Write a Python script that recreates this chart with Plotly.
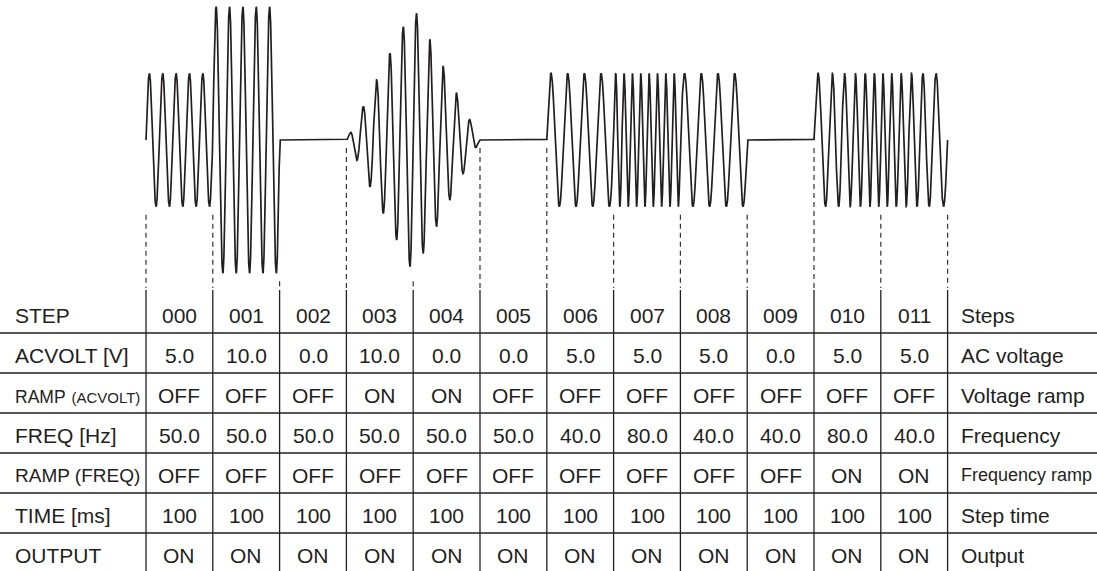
import numpy as np
import plotly.graph_objects as go

# ---------------- data ----------------
steps = ["000", "001", "002", "003", "004", "005", "006", "007", "008", "009", "010", "011"]
acvolt = [5.0, 10.0, 0.0, 10.0, 0.0, 0.0, 5.0, 5.0, 5.0, 0.0, 5.0, 5.0]
ramp_acvolt = ["OFF", "OFF", "OFF", "ON", "ON", "OFF", "OFF", "OFF", "OFF", "OFF", "OFF", "OFF"]
freq = [50.0, 50.0, 50.0, 50.0, 50.0, 50.0, 40.0, 80.0, 40.0, 40.0, 80.0, 40.0]
ramp_freq = ["OFF", "OFF", "OFF", "OFF", "OFF", "OFF", "OFF", "OFF", "OFF", "OFF", "ON", "ON"]
time_ms = [100, 100, 100, 100, 100, 100, 100, 100, 100, 100, 100, 100]
output = ["ON"] * 12

row_labels = ["STEP", "ACVOLT [V]",
              "<span style='font-size:17.5px'>RAMP</span> <span style='font-size:15px'>(ACVOLT)</span>",
              "FREQ [Hz]", "<span style='font-size:19px'>RAMP (FREQ)</span>", "TIME [ms]", "OUTPUT"]
row_desc = ["Steps", "AC voltage", "Voltage ramp", "Frequency",
            "<span style='font-size:18px'>Frequency ramp</span>", "Step time", "Output"]

fmt = lambda v: f"{v:.1f}"
rows = [steps, [fmt(v) for v in acvolt], ramp_acvolt, [fmt(v) for v in freq],
        ramp_freq, [str(v) for v in time_ms], output]

# ---------------- waveform ----------------
bounds = np.concatenate([[0], np.cumsum(time_ms)]).astype(float)
t_all, v_all = [], []
phase, prev_a, prev_f = 0.0, 0.0, freq[0]
for i in range(len(steps)):
    T = time_ms[i] / 1000.0
    tt = np.linspace(0, T, 3001)
    a_end = acvolt[i]
    a_start = prev_a if ramp_acvolt[i] == "ON" else a_end
    f_end = freq[i]
    f_start = prev_f if ramp_freq[i] == "ON" else f_end
    amp = a_start + (a_end - a_start) * tt / T
    ph = phase + 2 * np.pi * (f_start * tt + (f_end - f_start) * tt ** 2 / (2 * T))
    v = amp * np.sin(ph) if output[i] == "ON" else 0 * tt
    t_all.append(bounds[i] + tt * 1000)
    v_all.append(v)
    phase = ph[-1]
    prev_a, prev_f = a_end, f_end
t_all = np.concatenate(t_all)
v_all = np.concatenate(v_all)

# ---------------- geometry ----------------
PX_PER_MS = 0.668
X0_PX = 146.0
W, H = 1097, 571
x_range = [(0 - X0_PX) / PX_PER_MS, (W - X0_PX) / PX_PER_MS]
BASE_PX, PX_PER_V = 140.0, 13.33
y_range = [(BASE_PX - H) / PX_PER_V, BASE_PX / PX_PER_V]
ROW0_PX, ROW_H = 315.0, 40.0
y2_range = [(H - ROW0_PX) / ROW_H, (0 - ROW0_PX) / ROW_H]

def px_to_volt(p):
    return (BASE_PX - p) / PX_PER_V

def px_to_row(p):
    return (p - ROW0_PX) / ROW_H

INK = "#231f20"
fig = go.Figure()

# dashed guides from waveform to table
gap_v = 8 / PX_PER_V
dash_bottom = px_to_volt(288)
dx, dy = [], []
for k, b in enumerate(bounds):
    a = acvolt[0] if k == 0 else acvolt[k - 1]
    dx += [b, b, None]
    dy += [-a - gap_v, dash_bottom, None]
fig.add_trace(go.Scatter(x=dx, y=dy, mode="lines", line=dict(color="#333333", width=1.2, dash="5px,4px"),
                         hoverinfo="skip", connectgaps=False))

fig.add_trace(go.Scatter(x=t_all, y=v_all, mode="lines", line=dict(color=INK, width=1.7),
                         hoverinfo="skip"))

# table lines
shapes = []
for i in range(len(row_labels) - 1):
    r = i + 0.45
    shapes.append(dict(type="line", xref="paper", x0=0, x1=1, yref="y2", y0=r, y1=r,
                       line=dict(color=INK, width=1.3)))
for b in bounds:
    shapes.append(dict(type="line", xref="x", x0=b, x1=b, yref="y2", y0=px_to_row(290), y1=y2_range[0],
                       line=dict(color=INK, width=1.3)))

ann = []
FONT = "Liberation Sans, Arial, sans-serif"
lab_x = (13 - X0_PX) / PX_PER_MS
desc_x = (959 - X0_PX) / PX_PER_MS
for r, lab in enumerate(row_labels):
    ann.append(dict(x=lab_x, y=r, xref="x", yref="y2", text=lab, showarrow=False, xanchor="left",
                    yanchor="middle", font=dict(family=FONT, size=21, color=INK)))
    ann.append(dict(x=desc_x, y=r, xref="x", yref="y2", text=row_desc[r], showarrow=False,
                    xanchor="left", yanchor="middle", font=dict(family=FONT, size=21, color=INK)))
    for c, val in enumerate(rows[r]):
        ann.append(dict(x=(bounds[c] + bounds[c + 1]) / 2, y=r, xref="x", yref="y2", text=val,
                        showarrow=False, xanchor="center", yanchor="middle",
                        font=dict(family=FONT, size=21, color=INK)))

fig.update_layout(
    width=W, height=H, autosize=False,
    margin=dict(l=0, r=0, t=0, b=0, pad=0),
    paper_bgcolor="white", plot_bgcolor="white", showlegend=False,
    xaxis=dict(range=x_range, visible=False, fixedrange=True),
    yaxis=dict(range=y_range, visible=False, fixedrange=True, domain=[0, 1]),
    yaxis2=dict(range=y2_range, visible=False, overlaying="y", fixedrange=True),
    shapes=shapes, annotations=ann,
)
fig.write_html("out.html", config={"displayModeBar": False},
               post_script="document.body.style.margin='0';document.body.style.overflow='hidden';")
